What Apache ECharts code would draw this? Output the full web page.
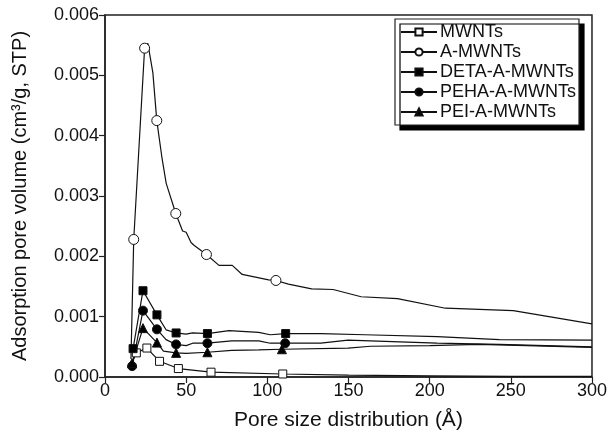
<!DOCTYPE html>
<html>
<head>
<meta charset="utf-8">
<script src="https://cdn.jsdelivr.net/npm/echarts@6/dist/echarts.min.js"></script>
<style>html,body{margin:0;padding:0;background:#fff}#c{width:610px;height:436px}</style>
</head>
<body>
<div id="c"></div>
<script>
// Data: [pore size (Å), pore volume]
const seriesNames = ['MWNTs', 'A-MWNTs', 'DETA-A-MWNTs', 'PEHA-A-MWNTs', 'PEI-A-MWNTs'];
const xTicks = [0, 50, 100, 150, 200, 250, 300];
const yTicks = [0, 0.001, 0.002, 0.003, 0.004, 0.005, 0.006];

const mwnts = [[17.1,0.00026],[19.3,0.00040],[25.8,0.00048],[33.6,0.00026],[45.2,0.00014],[65.3,0.00008],[109.5,0.00005],[150,0.00003],[200,0.00002],[250,0.00001],[300,0.00001]];
const mwntsMarked = [1,2,3,4,5,6];

const amwnts = [[16,0.0003],[17.7,0.00228],[24.4,0.00545],[26.4,0.00553],[29.5,0.00504],[31.9,0.00425],[35,0.00365],[37.7,0.00321],[43.6,0.00271],[47.8,0.00242],[50,0.0024],[53,0.00223],[55,0.00218],[62.5,0.00203],[70.2,0.00185],[78.4,0.00185],[84.5,0.0017],[100.8,0.00161],[105.3,0.0016],[113,0.00154],[127.3,0.00146],[140.5,0.00145],[157.8,0.00133],[180.2,0.0013],[209.7,0.00114],[251.5,0.0011],[300,0.00088]];
const amwntsMarked = [1,2,5,8,13,18];

const deta = [[17.3,0.00047],[23.4,0.00143],[32,0.00103],[37.7,0.00078],[43.8,0.00073],[49.9,0.00071],[54,0.00073],[63.1,0.00072],[76.4,0.00077],[94.7,0.00074],[101.8,0.0007],[111.3,0.00072],[133,0.00072],[160,0.0007],[204.6,0.00067],[243,0.00062],[300,0.00061]];
const detaMarked = [0,1,2,4,7,11];

const peha = [[16.7,0.00018],[23.4,0.0011],[32,0.00079],[37.6,0.00062],[43.8,0.00054],[50,0.00052],[54,0.00056],[63.1,0.00056],[78,0.0006],[94.7,0.0006],[101.8,0.00056],[111,0.00056],[133,0.00056],[149.7,0.00061],[204.6,0.00056],[243,0.00054],[300,0.0005]];
const pehaMarked = [0,1,2,4,7,11];

const pei = [[16.7,0.00023],[23.4,0.00081],[32,0.00057],[36,0.00043],[43.8,0.0004],[50,0.00039],[63.1,0.00041],[78,0.00044],[94.7,0.00045],[109,0.00046],[149.7,0.00048],[163.7,0.00051],[200,0.00052],[230,0.00054],[260,0.00052],[300,0.00049]];
const peiMarked = [0,1,2,4,6,9];

const FONT = 'Liberation Sans, Arial, sans-serif';
const INK = '#111';

function build(name, pts, marked, symbol, size, fill) {
  return {
    name: name,
    type: 'line',
    data: pts.map((p, i) => marked.indexOf(i) >= 0 ? { value: p } : { value: p, symbol: 'none' }),
    symbol: symbol,
    symbolSize: size,
    showAllSymbol: true,
    lineStyle: { color: INK, width: 1.2 },
    itemStyle: { color: fill, borderColor: INK, borderWidth: 1 },
    emphasis: { disabled: true },
    z: 2,
    animation: false
  };
}

const chart = echarts.init(document.getElementById('c'), null, { renderer: 'canvas' });
chart.setOption({
  backgroundColor: '#fff',
  animation: false,
  textStyle: { fontFamily: FONT },
  grid: { left: 105, right: 14, top: 15, bottom: 55, show: true, borderColor: '#222', borderWidth: 1.5, backgroundColor: 'transparent' },
  legend: {
    orient: 'vertical',
    left: 395, top: 19,
    padding: [4, 3, 4, 5],
    itemGap: 2,
    itemWidth: 36, itemHeight: 9,
    backgroundColor: '#fff',
    borderColor: '#222', borderWidth: 1.2,
    shadowColor: '#000', shadowBlur: 0, shadowOffsetX: 5, shadowOffsetY: 5,
    textStyle: { fontSize: 18, color: INK, fontFamily: FONT, padding: [0,0,0,-2] },
    data: seriesNames
  },
  xAxis: {
    type: 'value', min: xTicks[0], max: xTicks[xTicks.length - 1], interval: 50,
    name: 'Pore size distribution (\u00C5)', nameLocation: 'middle', nameGap: 33,
    nameTextStyle: { fontSize: 21, color: INK, fontFamily: FONT },
    axisLine: { onZero: false, lineStyle: { color: '#222', width: 1.5 } },
    axisTick: { inside: false, length: 6, lineStyle: { color: '#222', width: 1.2 } },
    axisLabel: { fontSize: 18, color: INK, margin: 5, fontFamily: FONT },
    splitLine: { show: false }
  },
  yAxis: {
    type: 'value', min: yTicks[0], max: yTicks[yTicks.length - 1], interval: 0.001,
    name: 'Adsorption pore volume (cm\u00B3/g, STP)', nameLocation: 'middle', nameGap: 75,
    nameTextStyle: { fontSize: 20, color: INK, fontFamily: FONT },
    axisLine: { onZero: false, lineStyle: { color: '#222', width: 1.5 } },
    axisTick: { inside: false, length: 6, lineStyle: { color: '#222', width: 1.2 } },
    axisLabel: { fontSize: 18, color: INK, margin: 6, fontFamily: FONT, formatter: v => v.toFixed(3) },
    splitLine: { show: false }
  },
  series: [
    build(seriesNames[0], mwnts, mwntsMarked, 'rect', 8, '#fff'),
    build(seriesNames[1], amwnts, amwntsMarked, 'circle', 10, '#fff'),
    build(seriesNames[2], deta, detaMarked, 'rect', 8, '#000'),
    build(seriesNames[3], peha, pehaMarked, 'circle', 9, '#000'),
    build(seriesNames[4], pei, peiMarked, 'triangle', 9, '#000')
  ]
});
</script>
</body>
</html>
